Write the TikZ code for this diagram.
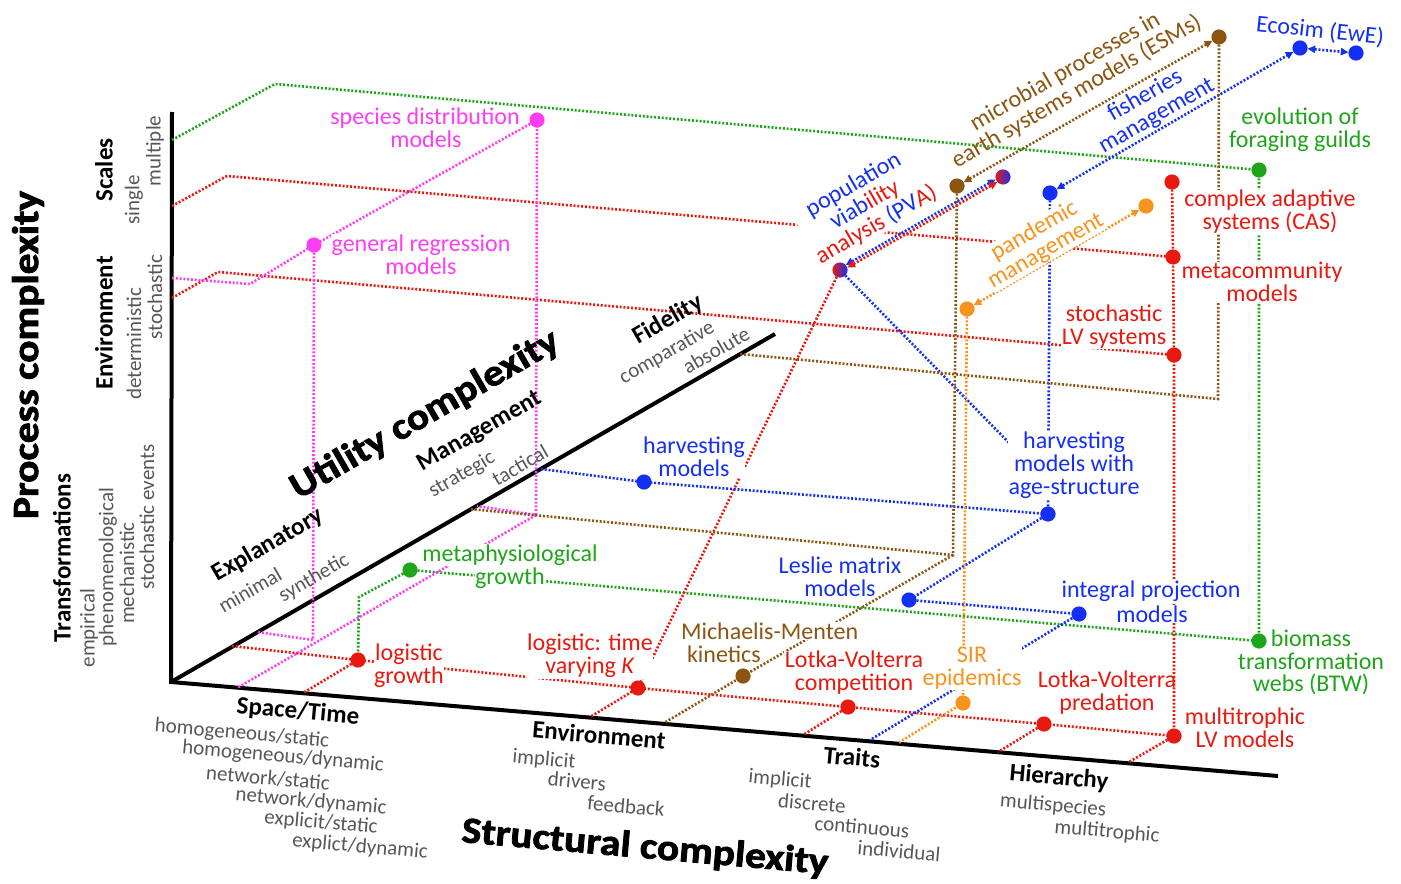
\documentclass[tikz,border=0pt]{standalone}
\usepackage{fontspec}
\setmainfont{Carlito}
\newfontfamily\heavyfont{Carlito}[FakeStretch=1.12, BoldFeatures={FakeBold=2.2}]
\usepackage{tikz}
\usetikzlibrary{arrows.meta}
\definecolor{mred}{HTML}{E8190E}
\definecolor{mblue}{HTML}{1530F5}
\definecolor{mgreen}{HTML}{1FA51A}
\definecolor{mpink}{HTML}{FF3DF5}
\definecolor{mbrown}{HTML}{8C5512}
\definecolor{morange}{HTML}{F7941D}
\definecolor{mgray}{HTML}{575757}
\tikzset{
  axis/.style={draw=black, line width=2pt},
  proj/.style={draw=#1, line width=1.3pt, dash pattern=on 1pt off 0.9pt},
  twoway/.style={{Triangle[length=3.8pt,width=3.6pt]}-{Triangle[length=3.8pt,width=3.6pt]}, shorten <=3.8pt, shorten >=3.8pt},
  lab/.style={font=\fontsize{12}{11.5}\selectfont, align=center, inner sep=0.3pt, fill=white},
  note/.style={text=mgray, font=\fontsize{10.5}{12}\selectfont, inner sep=0pt},
  cat/.style={font=\bfseries\fontsize{12.5}{14}\selectfont, inner sep=0pt},
  ttl/.style={font=\heavyfont\bfseries\fontsize{18.5}{20}\selectfont, inner sep=0pt}
}
\begin{document}
\begin{tikzpicture}[x=0.5pt, y=-0.5pt]
  % 1 unit = 1 px of the 1401 x 883 frame, y downwards
  \useasboundingbox (0,0) rectangle (1401,883);

  % axes
  \coordinate (O) at (171,682);
  \coordinate (Ptop) at (172,112);
  \coordinate (Uend) at (775,334);
  \coordinate (Send) at (1278,776);
  \draw[axis] (Ptop) -- (O) -- (Send);
  \draw[axis] (O) -- (Uend);

  % models
  \coordinate (sdm) at (537,120);
  \coordinate (grm) at (314,245);
  \coordinate (evo) at (1259,170);
  \coordinate (meta) at (410,570);
  \coordinate (btw) at (1259,641);
  \coordinate (cas) at (1172,182);
  \coordinate (mcom) at (1173,257);
  \coordinate (slv) at (1174,355);
  \coordinate (logi) at (358,660);
  \coordinate (logk) at (638,688);
  \coordinate (lvc) at (848,707);
  \coordinate (lvp) at (1044,724);
  \coordinate (mlv) at (1174,736);
  \coordinate (pva) at (840,270);
  \coordinate (pvb) at (1003,177);
  \coordinate (esm) at (1219,37);
  \coordinate (esmb) at (957,186);
  \coordinate (mm) at (743,676);
  \coordinate (fish) at (1050,193);
  \coordinate (ewea) at (1300,48);
  \coordinate (eweb) at (1356,53);
  \coordinate (harv) at (644,482);
  \coordinate (hage) at (1048,514);
  \coordinate (les) at (909,600);
  \coordinate (ipm) at (1079,614);
  \coordinate (pana) at (967,309);
  \coordinate (panb) at (1146,206);
  \coordinate (sir) at (963,703);

  % corners and axis feet
  \coordinate (g1) at (172,140);
  \coordinate (g2) at (275,84);
  \coordinate (gm) at (359,597);
  \coordinate (r1) at (172,206);
  \coordinate (r2) at (227,176);
  \coordinate (r3) at (172,298);
  \coordinate (r4) at (218,272);
  \coordinate (rl) at (232,646);
  \coordinate (rla) at (303,693);
  \coordinate (rka) at (590,717);
  \coordinate (rca) at (803,735);
  \coordinate (rpa) at (998,752);
  \coordinate (rma) at (1129,762);
  \coordinate (p1) at (172,278);
  \coordinate (p2) at (250,284);
  \coordinate (pg) at (313,640);
  \coordinate (pgu) at (257,632);
  \coordinate (ps) at (536,515);
  \coordinate (psu) at (477,506);
  \coordinate (pss) at (237,688);
  \coordinate (bh) at (541,469);
  \coordinate (bpe) at (1018,452);
  \coordinate (bia) at (870,740);
  \coordinate (bt) at (1218,399);
  \coordinate (bu) at (740,354);
  \coordinate (bl) at (953,555);
  \coordinate (bu2) at (470,509);
  \coordinate (bma) at (664,723);
  \coordinate (oa) at (898,743);

  % green
  \draw[proj=mgreen] (g1) -- (g2) -- (evo) -- (btw);
  \draw[proj=mgreen] (meta) -- (btw);
  \draw[proj=mgreen] (meta) -- (gm) -- (logi);

  % red
  \draw[proj=mred] (r1) -- (r2) -- (mcom);
  \draw[proj=mred] (r3) -- (r4) -- (slv);
  \draw[proj=mred] (cas) -- (mcom) -- (slv) -- (mlv);
  \draw[proj=mred] (rl) -- (logi) -- (logk) -- (lvc) -- (lvp) -- (mlv);
  \draw[proj=mred] (pva) -- (logk) -- (rka);
  \draw[proj=mred] (logi) -- (rla);
  \draw[proj=mred] (lvc) -- (rca);
  \draw[proj=mred] (lvp) -- (rpa);
  \draw[proj=mred] (mlv) -- (rma);

  % pink
  \draw[proj=mpink] (p1) -- (p2) -- (grm) -- (sdm) -- (ps) -- (psu);
  \draw[proj=mpink] (ps) -- (pss);
  \draw[proj=mpink] (grm) -- (pg) -- (pgu);

  % blue
  \draw[proj=mblue] (bh) -- (harv) -- (hage) -- (fish);
  \draw[proj=mblue] (pva) -- (bpe);
  \draw[proj=mblue] (hage) -- (les) -- (ipm) -- (bia);
  \draw[proj=mblue, twoway] (fish) -- (ewea);
  \draw[proj=mblue, twoway] (ewea) -- (eweb);

  % brown
  \draw[proj=mbrown] (esm) -- (bt) -- (bu);
  \draw[proj=mbrown] (esmb) -- (bl) -- (bu2);
  \draw[proj=mbrown] (bl) -- (mm) -- (bma);
  \draw[proj=mbrown, twoway] (esmb) -- (esm);

  % orange
  \draw[proj=morange] (pana) -- (sir) -- (oa);
  \draw[proj=morange, twoway] (pana) -- (panb);

  % PVA: blue and red side by side
  \draw[proj=mblue, twoway, transform canvas={shift={(-0.8,-1.3)}}] (pva) -- (pvb);
  \draw[proj=mred, twoway, transform canvas={shift={(0.8,1.3)}}] (pva) -- (pvb);

  % model labels
  \node[lab, text=mpink] (sdmA) at (425,118) {species distribution};
  \node[lab, text=mpink] (sdmB) at (426,139) {models};
  \node[lab, text=mpink] (grmA) at (421,245) {general regression};
  \node[lab, text=mpink] (grmB) at (421,266) {models};

  \node[lab, text=mgreen] (evoL) at (1300,130) {evolution of\\foraging guilds};
  \node[lab, text=mgreen] (metaA) at (510,555) {metaphysiological};
  \node[lab, text=mgreen] (metaB) at (510,578) {growth};
  \node[lab, text=mgreen] (btwA) at (1311,638) {biomass};
  \node[lab, text=mgreen] (btwB) at (1311,661) {transformation};
  \node[lab, text=mgreen] (btwC) at (1311,684) {webs (BTW)};

  \node[lab, text=mred] (casL) at (1270,212) {complex adaptive\\systems (CAS)};
  \node[lab, text=mred] (mcomL) at (1262,282) {metacommunity\\models};
  \node[lab, text=mred] (slvL) at (1114,327) {stochastic\\LV systems};
  \node[lab, text=mred] (logiL) at (409,666) {logistic\\growth};
  \node[lab, text=mred] (logkL) at (590,656) {logistic: time\\varying \textit{K}};
  \node[lab, text=mred] (lvcL) at (854,673) {Lotka-Volterra\\competition};
  \node[lab, text=mred, fill=none] (lvpL) at (1107,693) {Lotka-Volterra\\predation};
  \node[lab, text=mred] (mlvL) at (1245,728) {multitrophic\\LV models};

  \node[lab, rotate=30] (pvaL) at (865,205) {\textcolor{mblue}{population}\\\textcolor{mblue}{viab}\textcolor{mred}{ility}\\\textcolor{mred}{analysis} \textcolor{mblue}{(PV}\textcolor{mred}{A)}};

  \node[lab, text=mbrown, rotate=30, fill=none] (esmL) at (1071,82) {microbial processes in\\earth systems models (ESMs)};
  \node[lab, text=mbrown, anchor=west] (mmA) at (680,631) {Michaelis-Menten};
  \node[lab, text=mbrown, anchor=west] (mmB) at (686,654) {kinetics};

  \node[lab, text=morange, rotate=30] (panL) at (1040,241) {pandemic\\management};
  \node[lab, text=morange] (sirL) at (972,668) {SIR\\epidemics};

  \node[lab, text=mblue, rotate=-6] (eweL) at (1320,31) {Ecosim (EwE)};
  \node[lab, text=mblue, rotate=30, fill=none] (fishL) at (1151,106) {fisheries\\management};
  \node[lab, text=mblue] (harvL) at (694,457) {harvesting\\models};
  \node[lab, text=mblue] (hageL) at (1074,465) {harvesting\\models with\\age-structure};
  \node[lab, text=mblue] (lesA) at (840,565) {Leslie matrix};
  \node[lab, text=mblue] (lesB) at (840,588) {models};
  \node[lab, text=mblue] (ipmA) at (1151,591) {integral projection};
  \node[lab, text=mblue] (ipmB) at (1152,614) {models};

  % dots on top
  \foreach \p in {sdm,grm} \fill[mpink] (\p) circle[radius=3.8pt];
  \foreach \p in {evo,meta,btw} \fill[mgreen] (\p) circle[radius=3.8pt];
  \foreach \p in {cas,mcom,slv,logi,logk,lvc,lvp,mlv} \fill[mred] (\p) circle[radius=3.8pt];
  \foreach \p in {esm,esmb,mm} \fill[mbrown] (\p) circle[radius=3.8pt];
  \foreach \p in {fish,ewea,eweb,harv,hage,les,ipm} \fill[mblue] (\p) circle[radius=3.8pt];
  \foreach \p in {pana,panb,sir} \fill[morange] (\p) circle[radius=3.8pt];
  \foreach \p in {pva,pvb} \shade[left color=mred, right color=mblue] (\p) circle[radius=3.8pt];

  % axis titles
  \node[ttl, rotate=90] (pcx) at (28,355) {Process complexity};
  \node[ttl, rotate=30] (ucx) at (425,415) {Utility complexity};
  \node[ttl, rotate=-5] (scx) at (645,848) {Structural complexity};

  % process axis
  \node[cat, rotate=90] (scl) at (104,170) {Scales};
  \node[note, rotate=90] (scl1) at (134,200) {single};
  \node[note, rotate=90] (scl2) at (155,151) {multiple};
  \node[cat, rotate=90] (penv) at (104,323) {Environment};
  \node[note, rotate=90] (penv1) at (134,344) {deterministic};
  \node[note, rotate=90] (penv2) at (155,297) {stochastic};
  \node[cat, rotate=90] (trf) at (62,558) {Transformations};
  \node[note, rotate=90] (trf1) at (89,628) {empirical};
  \node[note, rotate=90] (trf2) at (108,567) {phenomenological};
  \node[note, rotate=90] (trf3) at (127,573) {mechanistic};
  \node[note, rotate=90] (trf4) at (147,517) {stochastic events};

  % utility axis
  \node[cat, rotate=30] (expl) at (268,545) {Explanatory};
  \node[note, rotate=30] (expl1) at (250,590) {minimal};
  \node[note, rotate=30] (expl2) at (314,578) {synthetic};
  \node[cat, rotate=30] (mgmt) at (480,432) {Management};
  \node[note, rotate=30] (mgmt1) at (462,475) {strategic};
  \node[note, rotate=30] (mgmt2) at (520,465) {tactical};
  \node[cat, rotate=30] (fid) at (668,320) {Fidelity};
  \node[note, rotate=30] (fid1) at (667,353) {comparative};
  \node[note, rotate=30] (fid2) at (716,350) {absolute};

  % structural axis
  \node[cat, rotate=-5] (spt) at (298,712) {Space/Time};
  \node[note, rotate=-5] (spt1) at (242,734) {homogeneous/static};
  \node[note, rotate=-5] (spt2) at (283,757) {homogeneous/dynamic};
  \node[note, rotate=-5] (spt3) at (268,778) {network/static};
  \node[note, rotate=-5] (spt4) at (311,802) {network/dynamic};
  \node[note, rotate=-5] (spt5) at (321,823) {explicit/static};
  \node[note, rotate=-5] (spt6) at (360,847) {explict/dynamic};
  \node[cat, rotate=-5] (senv) at (599,735) {Environment};
  \node[note, rotate=-5] (senv1) at (544,760) {implicit};
  \node[note, rotate=-5] (senv2) at (577,781) {drivers};
  \node[note, rotate=-5] (senv3) at (626,806) {feedback};
  \node[cat, rotate=-5] (trt) at (852,757) {Traits};
  \node[note, rotate=-5] (trt1) at (780,780) {implicit};
  \node[note, rotate=-5] (trt2) at (812,803) {discrete};
  \node[note, rotate=-5] (trt3) at (862,827) {continuous};
  \node[note, rotate=-5] (trt4) at (899,851) {individual};
  \node[cat, rotate=-5] (hie) at (1059,778) {Hierarchy};
  \node[note, rotate=-5] (hie1) at (1053,806) {multispecies};
  \node[note, rotate=-5] (hie2) at (1107,832) {multitrophic};
\end{tikzpicture}
\end{document}
